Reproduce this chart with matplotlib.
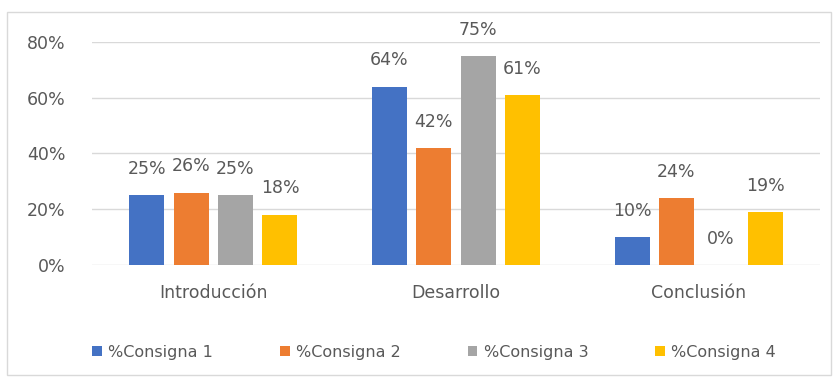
import numpy as np
import matplotlib.pyplot as plt
from matplotlib.patches import Rectangle

categories = ['Introducción', 'Desarrollo', 'Conclusión']
series_names = ['%Consigna 1', '%Consigna 2', '%Consigna 3', '%Consigna 4']
consigna1 = [25, 64, 10]
consigna2 = [26, 42, 24]
consigna3 = [25, 75, 0]
consigna4 = [18, 61, 19]
y_ticks = [0, 20, 40, 60, 80]

series = [consigna1, consigna2, consigna3, consigna4]
colors = ['#4472C4', '#ED7D31', '#A5A5A5', '#FFC000']
text_color = '#595959'

plt.rcParams['font.family'] = ['DejaVu Sans']

fig = plt.figure(figsize=(8.38, 3.81), dpi=100)
ax = fig.add_axes([92 / 838, 1 - 265 / 381, 728 / 838, 223 / 381])

x = np.arange(len(categories))
width = 0.144
step = 0.183
for i, (vals, c, name) in enumerate(zip(series, colors, series_names)):
    pos = x + (i - 1.5) * step
    ax.bar(pos, vals, width, color=c, label=name, zorder=3)
    for p, v in zip(pos, vals):
        ax.annotate(f'{v}%', (p, v), xytext=(0, 19), textcoords='offset points',
                    ha='center', va='center', fontsize=12.5, color=text_color)

ax.set_xlim(-0.5, 2.5)
ax.set_ylim(0, 80)
ax.set_yticks(y_ticks)
ax.set_yticklabels([f'{t}%' for t in y_ticks])
ax.set_xticks(x)
ax.set_xticklabels(categories)
ax.grid(axis='y', color='#D9D9D9', linewidth=1, zorder=0)
for s in ax.spines.values():
    s.set_visible(False)
ax.tick_params(axis='both', length=0, colors=text_color, labelsize=12.5)
ax.tick_params(axis='y', pad=19)
ax.tick_params(axis='x', pad=14)

fig.legend(loc='center', bbox_to_anchor=(0.518, 1 - 352 / 381), ncol=4, frameon=False,
           handlelength=0.6, handleheight=0.6, handletextpad=0.4, columnspacing=4.2,
           fontsize=11.5, labelcolor=text_color)

fig.patches.append(Rectangle((7 / 838, 6 / 381), 824 / 838, 363 / 381, transform=fig.transFigure,
                             fill=False, edgecolor='#D9D9D9', linewidth=1))

fig.savefig('out.png', dpi=100)
